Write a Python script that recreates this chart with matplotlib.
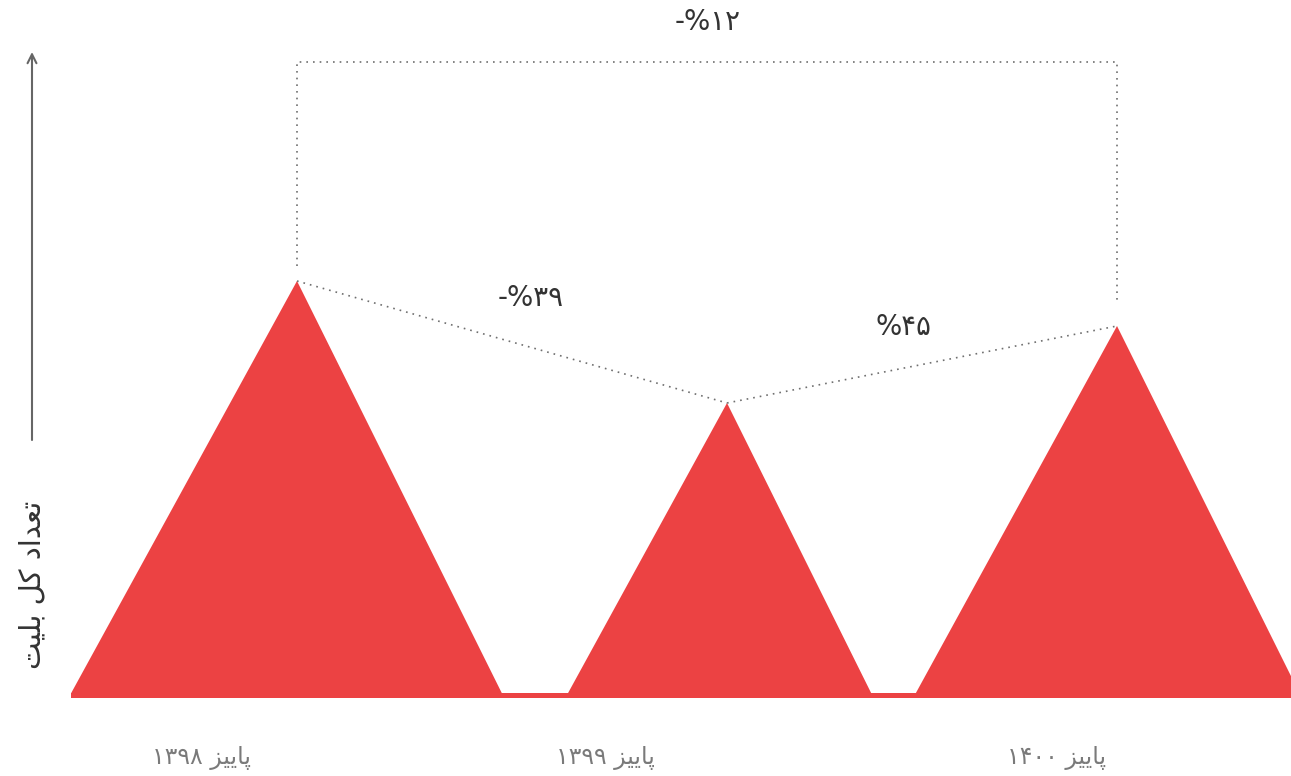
import matplotlib
matplotlib.use("Agg")
import matplotlib.pyplot as plt
from matplotlib.patches import Polygon, Rectangle

# ---------------- data ----------------
categories = ["پاییز ۱۳۹۸", "پاییز ۱۳۹۹", "پاییز ۱۴۰۰"]
values = [412, 290, 367]                 # relative total tickets (triangle heights)
change_labels = ["-%۳۹", "%۴۵"]          # change between consecutive seasons
overall_label = "-%۱۲"                   # change first -> last
y_title = "تعداد کل بلیت"

# ---------------- layout ----------------
peak_x = [297, 727, 1117]
label_x = [202, 605, 1057]
RED = "#EC4243"
DOT = "#6f6f6f"

# ---- minimal Persian shaping (presentation forms) + RTL ordering ----
FORMS = {
    'ا': (0xFE8D, 0xFE8E, None, None),
    'د': (0xFEA9, 0xFEAA, None, None),
    'ز': (0xFEAF, 0xFEB0, None, None),
    'ب': (0xFE8F, 0xFE90, 0xFE91, 0xFE92),
    'ت': (0xFE95, 0xFE96, 0xFE97, 0xFE98),
    'پ': (0xFB56, 0xFB57, 0xFB58, 0xFB59),
    'ع': (0xFEC9, 0xFECA, 0xFECB, 0xFECC),
    'ک': (0xFB8E, 0xFB8F, 0xFB90, 0xFB91),
    'ل': (0xFEDD, 0xFEDE, 0xFEDF, 0xFEE0),
    'ی': (0xFBFC, 0xFBFD, 0xFBFE, 0xFBFF),
}


def dual(c):
    return c in FORMS and FORMS[c][2] is not None


def shape_word(w):
    out = []
    for i, c in enumerate(w):
        if c not in FORMS:
            out.append(c)
            continue
        prev = w[i - 1] if i > 0 else None
        nxt = w[i + 1] if i + 1 < len(w) else None
        jp = prev is not None and dual(prev)
        jn = dual(c) and nxt is not None and nxt in FORMS
        f = FORMS[c]
        if jp and jn:
            code = f[3]
        elif jp:
            code = f[1]
        elif jn:
            code = f[2]
        else:
            code = f[0]
        out.append(chr(code))
    return "".join(out)


def fa(text):
    toks = text.split(" ")
    vis = []
    for t in reversed(toks):
        if any(ch in FORMS for ch in t):
            vis.append(shape_word(t)[::-1])
        else:
            vis.append(t)
    return " ".join(vis)


plt.rcParams['font.family'] = ['DejaVu Sans']

fig = plt.figure(figsize=(12.91, 7.76), dpi=100)
ax = fig.add_axes([0, 0, 1, 1])
ax.set_xlim(0, 1291)
ax.set_ylim(-83, 693)
ax.axis("off")

# base strip
ax.add_patch(Rectangle((71, -4.7), 1291 - 71, 4.7, facecolor=RED, edgecolor="none"))

# triangles
for px, h in zip(peak_x, values):
    tri = Polygon([(px - 0.548 * h, 0), (px, h), (px + 0.497 * h, 0)],
                  closed=True, facecolor=RED, edgecolor="none")
    ax.add_patch(tri)

dot_kw = dict(color=DOT, lw=1.2, linestyle=(0, (1, 3)))

# connecting dotted lines between peaks
for i in range(len(values) - 1):
    ax.plot([peak_x[i], peak_x[i + 1]], [values[i], values[i + 1]], **dot_kw)

# overall bracket
top = 631
ax.plot([peak_x[0], peak_x[0], peak_x[-1], peak_x[-1]],
        [values[0] + 15, top, top, values[-1] + 25], **dot_kw)

# labels
TXT = "#333333"
ax.text(708, 671, overall_label, ha="center", va="center",
        fontsize=20, color=TXT)
ax.text(531, 395, change_labels[0], ha="center", va="center", fontsize=20, color=TXT)
ax.text(903, 366, change_labels[1], ha="center", va="center", fontsize=20, color=TXT)

for lx, cat in zip(label_x, categories):
    ax.text(lx, -65, fa(cat), ha="center", va="center", fontsize=17, color="#7a7a7a")

# y axis arrow + title
ax.annotate("", xy=(32, 641), xytext=(32, 253),
            arrowprops=dict(arrowstyle="->", color="#666666", lw=1.5,
                            mutation_scale=16, shrinkA=0, shrinkB=0))
ax.text(32, 108, fa(y_title), rotation=90, ha="center", va="center",
        fontsize=21, color=TXT)

fig.savefig("out.png", dpi=100)
